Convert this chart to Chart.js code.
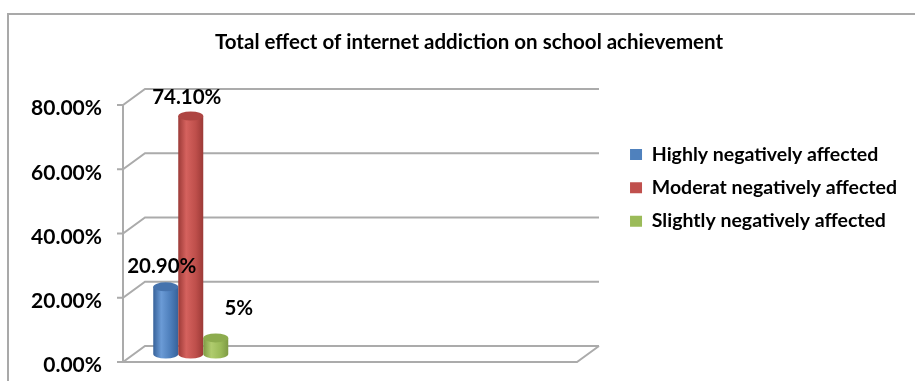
<!DOCTYPE html>
<html><head><meta charset="utf-8">
<script src="https://cdn.jsdelivr.net/npm/chart.js@4.4.1/dist/chart.umd.min.js"></script>
<style>
html,body{margin:0;padding:0;background:#fff;overflow:hidden}
#wrap{position:relative;width:915px;height:381px;overflow:hidden}
#frame{position:absolute;left:7px;top:13px;width:1000px;height:1000px;border:2px solid #A9A9A9}
canvas{position:absolute;left:0;top:0}
</style></head><body>
<div id="wrap"><div id="frame"></div><canvas id="c" width="915" height="381"></canvas></div>
<script>
// ---- data ----
const chartTitle = 'Total effect of internet addiction on school achievement';
const categories = ['School achievement', '', '', ''];
const seriesNames = ['Highly negatively affected', 'Moderat negatively affected', 'Slightly negatively affected'];
const highlyValues = [20.9, null, null, null];
const moderatValues = [74.1, null, null, null];
const slightlyValues = [5, null, null, null];
const valueLabels = ['20.90%', '74.10%', '5%'];
const yTickValues = [0, 20, 40, 60, 80];

// ---- style ----
const FONT = 'Lato';
const seriesColors = ['#4F81BD', '#C0504D', '#9BBB59'];
const cylShades = [
  {edge:'#37629A', light:'#6B9BD6', base:'#4C7DBA', top:'#4673AD'},
  {edge:'#9C3A37', light:'#D5625E', base:'#BE4F4B', top:'#AE4542'},
  {edge:'#7E9A44', light:'#B0CC6E', base:'#9ABA58', top:'#8DAC4E'}
];
const labelOffsets = [[-4,-20],[-4,-19],[23,-30]];
const DX = 22, DY = -16, RY = 4.5;
const wallColor = '#ABABAB';
const legendFontSize = 19.5, legendBox = 12, legendPad = 13.8;
const padL = 31, padR = 8;

const mctx = document.createElement('canvas').getContext('2d');
mctx.font = 'bold ' + legendFontSize + 'px ' + FONT;
const maxLegendText = Math.max(...seriesNames.map(s => mctx.measureText(s).width));
const legendWidth = legendPad + legendBox + legendFontSize / 2 + maxLegendText + 10;
const rightGap = (915 - padR - legendWidth) - 577;

const depthPlugin = {
  id: 'depth3d',
  beforeDatasetsDraw(chart) {
    const {ctx, chartArea: a, scales: {y}} = chart;
    ctx.save();
    ctx.strokeStyle = wallColor; ctx.lineWidth = 2; ctx.lineJoin = 'miter';
    y.ticks.forEach(t => {
      const py = y.getPixelForValue(t.value);
      ctx.beginPath();
      ctx.moveTo(a.left - 6, py); ctx.lineTo(a.left, py);
      ctx.lineTo(a.left + DX, py + DY); ctx.lineTo(a.right + DX, py + DY);
      ctx.stroke();
    });
    const y0 = y.getPixelForValue(0), yTop = y.getPixelForValue(y.max);
    ctx.beginPath(); ctx.moveTo(a.left, yTop); ctx.lineTo(a.left, y0); ctx.stroke();
    ctx.beginPath(); ctx.moveTo(a.left, y0); ctx.lineTo(a.right, y0); ctx.lineTo(a.right + DX, y0 + DY); ctx.stroke();
    ctx.restore();
  },
  beforeDatasetDraw() { return false; },
  afterDatasetsDraw(chart) {
    const {ctx} = chart;
    const labels = [];
    ctx.save();
    chart.data.datasets.forEach((ds, i) => {
      const meta = chart.getDatasetMeta(i);
      meta.data.forEach((el, j) => {
        if (ds.data[j] == null) return;
        const cx = el.x + DX / 2, top = el.y + DY / 2, bot = el.base + DY / 2;
        const rx = el.width / 2, l = cx - rx, r = cx + rx, c = cylShades[i];
        const g = ctx.createLinearGradient(l, 0, r, 0);
        g.addColorStop(0, c.edge); g.addColorStop(0.32, c.light); g.addColorStop(0.7, c.base); g.addColorStop(1, c.edge);
        ctx.fillStyle = g;
        ctx.beginPath();
        ctx.moveTo(l, top); ctx.lineTo(l, bot);
        ctx.ellipse(cx, bot, rx, RY, 0, Math.PI, 0, true);
        ctx.lineTo(r, top); ctx.closePath(); ctx.fill();
        ctx.fillStyle = c.top;
        ctx.beginPath(); ctx.ellipse(cx, top, rx, RY, 0, 0, Math.PI * 2); ctx.fill();
        labels.push([valueLabels[i], cx + labelOffsets[i][0], top + labelOffsets[i][1]]);
      });
    });
    ctx.fillStyle = '#000';
    ctx.font = 'bold 20.5px ' + FONT;
    ctx.textAlign = 'center'; ctx.textBaseline = 'middle';
    labels.forEach(([t, x, y]) => ctx.fillText(t, x, y));
    ctx.restore();
  }
};

const mkDs = (label, data, color) => ({label, data, backgroundColor: color, borderColor: color, borderWidth: 0, barThickness: 25});

new Chart(document.getElementById('c'), {
  type: 'bar',
  data: {
    labels: categories,
    datasets: [
      mkDs(seriesNames[0], highlyValues, seriesColors[0]),
      mkDs(seriesNames[1], moderatValues, seriesColors[1]),
      mkDs(seriesNames[2], slightlyValues, seriesColors[2])
    ]
  },
  options: {
    responsive: false, animation: false, devicePixelRatio: 1,
    layout: {padding: {left: padL, right: padR, top: 0, bottom: 19}},
    plugins: {
      tooltip: {enabled: false},
      title: {display: true, text: chartTitle, color: '#000', font: {family: FONT, weight: 'bold', size: 20.5}, padding: {top: 29.7, bottom: 50.7}},
      legend: {
        position: 'right', align: 'start', maxWidth: 500,
        title: {display: true, text: ' ', font: {size: 10}, padding: {top: 59.5, bottom: 59.5}},
        labels: {color: '#000', font: {family: FONT, weight: 'bold', size: legendFontSize}, boxWidth: legendBox, boxHeight: 11, padding: legendPad}
      }
    },
    scales: {
      x: {display: false},
      y: {
        min: 0, max: 80,
        afterBuildTicks(s) { s.ticks = yTickValues.map(v => ({value: v})); },
        ticks: {color: '#000', font: {family: FONT, weight: 'bold', size: 21, lineHeight: '7px'}, padding: 21, callback: v => ['', v.toFixed(2) + '%']},
        grid: {display: false, drawTicks: false}, border: {display: false},
        afterFit(s) { s.width = 123 - padL; s.paddingTop = 0; s.paddingBottom = 0; }
      },
      yGap: {
        position: 'right', display: true,
        ticks: {display: false}, grid: {display: false, drawTicks: false}, border: {display: false},
        afterFit(s) { s.width = rightGap; s.paddingTop = 0; s.paddingBottom = 0; }
      }
    }
  },
  plugins: [depthPlugin]
});
</script>
</body></html>
